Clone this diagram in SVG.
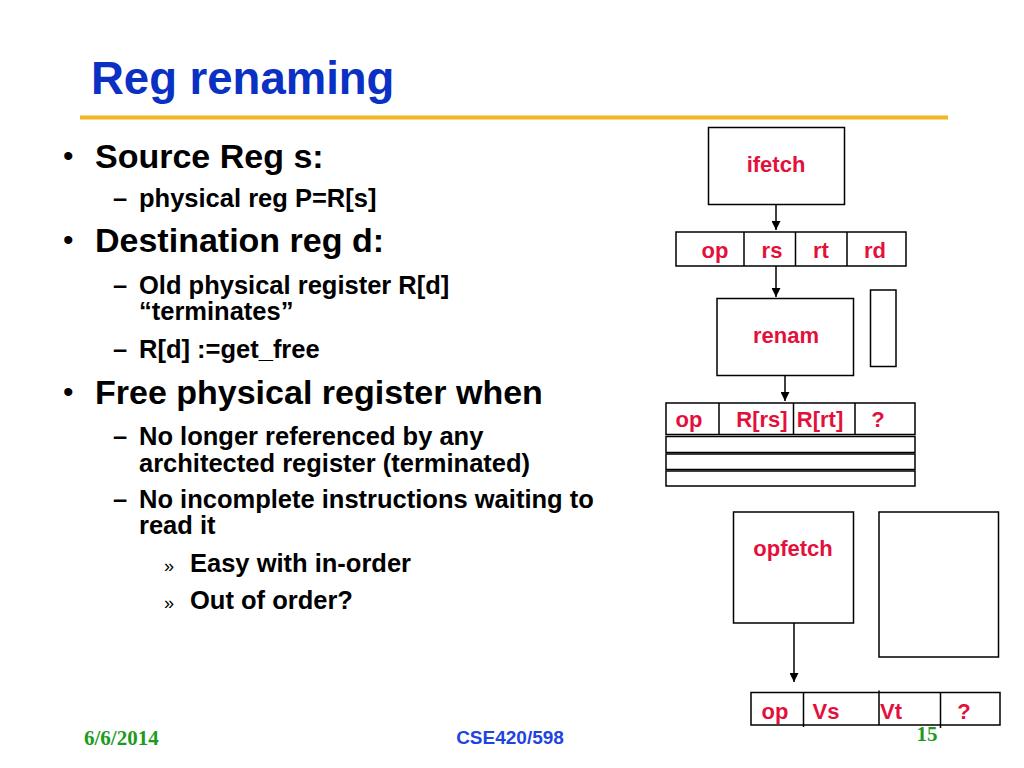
<svg xmlns="http://www.w3.org/2000/svg" width="1024" height="768" viewBox="0 0 1024 768">
<style>
.t{font-family:"Liberation Sans",Arial,sans-serif;font-weight:bold;fill:#000}
.l1{font-size:34px}
.l2{font-size:25.5px}
.bu{font-family:"Liberation Sans",Arial,sans-serif;font-size:30px;fill:#000}
.lab{font-family:"Liberation Sans",Arial,sans-serif;font-weight:bold;font-size:22px;fill:#E3103C;text-anchor:middle}
.box{fill:#fff;stroke:#000;stroke-width:1.5}
.ln{stroke:#000;stroke-width:1.5;fill:none}
.tm{font-family:"Liberation Serif","Times New Roman",serif;font-weight:bold;font-size:21px;fill:#1E9A1E}
</style>
<defs>
<marker id="ah" markerUnits="userSpaceOnUse" markerWidth="9" markerHeight="9" refX="9" refY="4.5" orient="auto">
<path d="M0,0 L9,4.5 L0,9 z" fill="#000"/>
</marker>
</defs>
<rect width="1024" height="768" fill="#fff"/>
<text x="91" y="94" style="font-family:'Liberation Sans',Arial,sans-serif;font-weight:bold;font-size:45.5px;fill:#0A30C4">Reg renaming</text>
<line x1="80" y1="117.5" x2="948" y2="117.5" stroke="#F2B822" stroke-width="4"/>
<g id="bullets">
<text class="bu" x="63" y="166">•</text>
<text class="t l1" x="95" y="168">Source Reg s:</text>
<text class="t l2" x="113" y="207">–</text>
<text class="t l2" x="139" y="207">physical reg P=R[s]</text>
<text class="bu" x="63" y="250">•</text>
<text class="t l1" x="95" y="252">Destination reg d:</text>
<text class="t l2" x="113" y="294">–</text>
<text class="t l2" x="139" y="294">Old physical register R[d]</text>
<text class="t l2" x="139" y="320">“terminates”</text>
<text class="t l2" x="113" y="358">–</text>
<text class="t l2" x="139" y="358">R[d] :=get_free</text>
<text class="bu" x="63" y="402">•</text>
<text class="t l1" x="95" y="404">Free physical register when</text>
<text class="t l2" x="113" y="445">–</text>
<text class="t l2" x="139" y="445">No longer referenced by any</text>
<text class="t l2" x="139" y="472">architected register (terminated)</text>
<text class="t l2" x="113" y="508">–</text>
<text class="t l2" x="139" y="508">No incomplete instructions waiting to</text>
<text class="t l2" x="139" y="534">read it</text>
<text x="164" y="572" style="font-family:'Liberation Sans',Arial,sans-serif;font-size:18px;fill:#000">»</text>
<text class="t l2" x="190" y="572">Easy with in-order</text>
<text x="164" y="609" style="font-family:'Liberation Sans',Arial,sans-serif;font-size:18px;fill:#000">»</text>
<text class="t l2" x="190" y="609">Out of order?</text>
</g>
<g id="ifetch">
<rect class="box" x="708.5" y="127.5" width="136" height="77"/>
<text class="lab" x="776" y="172">ifetch</text>
</g>
<g id="instr-row">
<rect class="box" x="676" y="232" width="230" height="34"/>
<line class="ln" x1="744" y1="232" x2="744" y2="266"/>
<line class="ln" x1="795.5" y1="232" x2="795.5" y2="266"/>
<line class="ln" x1="847" y1="232" x2="847" y2="266"/>
<text class="lab" x="715" y="257.5">op</text>
<text class="lab" x="772" y="257.5">rs</text>
<text class="lab" x="821" y="257.5">rt</text>
<text class="lab" x="875" y="257.5">rd</text>
</g>
<g id="renam">
<rect class="box" x="717" y="298.5" width="136.5" height="77"/>
<text class="lab" x="786" y="343">renam</text>
</g>
<g id="map-table">
<rect class="box" x="870.5" y="290" width="25.5" height="76.5"/>
</g>
<g id="renamed-row">
<rect class="box" x="666" y="403" width="249" height="31.5"/>
<line class="ln" x1="719" y1="403" x2="719" y2="434.5"/>
<line class="ln" x1="793.5" y1="403" x2="793.5" y2="434.5"/>
<line class="ln" x1="855" y1="403" x2="855" y2="434.5"/>
<text class="lab" x="689" y="427">op</text>
<text class="lab" x="762" y="427">R[rs]</text>
<text class="lab" x="820" y="427">R[rt]</text>
<text class="lab" x="878" y="427">?</text>
<rect class="box" x="666" y="436.5" width="249" height="16"/>
<rect class="box" x="666" y="454" width="249" height="15.5"/>
<rect class="box" x="666" y="471" width="249" height="15"/>
</g>
<g id="opfetch">
<rect class="box" x="733.5" y="512" width="120" height="111"/>
<text class="lab" x="793" y="556">opfetch</text>
</g>
<g id="regfile">
<rect class="box" x="879" y="512" width="119.5" height="145"/>
</g>
<g id="operand-row">
<rect class="box" x="751" y="692.5" width="249" height="32.5"/>
<line class="ln" x1="803.5" y1="692.5" x2="803.5" y2="727"/>
<line class="ln" x1="879" y1="690.5" x2="879" y2="725"/>
<line class="ln" x1="940.5" y1="692.5" x2="940.5" y2="728"/>
<text class="lab" x="775" y="718.5">op</text>
<text class="lab" x="826" y="718.5">Vs</text>
<text class="lab" x="880" y="718.5" style="text-anchor:start">Vt</text>
<text class="lab" x="964" y="718.5">?</text>
</g>
<g id="connectors">
<line class="ln" x1="776" y1="204.5" x2="776" y2="230" marker-end="url(#ah)"/>
<line class="ln" x1="776" y1="266" x2="776" y2="297" marker-end="url(#ah)"/>
<line class="ln" x1="785" y1="375.5" x2="785" y2="401" marker-end="url(#ah)"/>
<line class="ln" x1="794" y1="623" x2="794" y2="682" marker-end="url(#ah)"/>
</g>
<g id="footer">
<text class="tm" x="84" y="745">6/6/2014</text>
<text x="510" y="744" style="font-family:'Liberation Sans',Arial,sans-serif;font-weight:bold;font-size:19px;fill:#1F45E0;text-anchor:middle">CSE420/598</text>
<text class="tm" x="927" y="741" style="text-anchor:middle">15</text>
</g>
</svg>
